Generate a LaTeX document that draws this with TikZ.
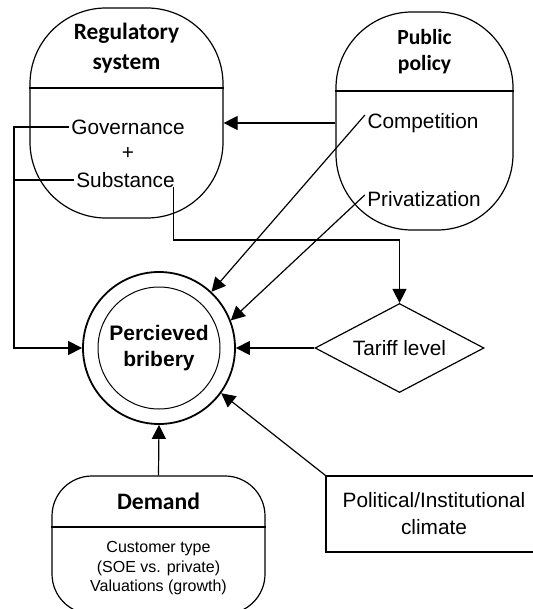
\documentclass[tikz,border=0pt]{standalone}
\usepackage{fontspec}
\setmainfont{Liberation Sans}
\newfontfamily\titlefont{Carlito}
\usetikzlibrary{shapes.geometric, arrows.meta, calc}

\begin{document}
\begin{tikzpicture}[x=0.5pt, y=-0.5pt, line width=0.6pt,
    arr/.style={-{Triangle[length=7pt,width=7pt]}},
    panel/.style={draw, inner sep=0pt},
    item/.style={inner sep=1pt, font=\fontsize{10.4}{13.5}\selectfont},
    head/.style={align=center, font=\titlefont\bfseries\fontsize{11.7}{15}\selectfont}]
    \useasboundingbox (0,0) rectangle (532,609);

    % Regulatory system
    \node[panel, rounded corners=38pt, minimum width=96.5pt, minimum height=105pt] (reg) at (126.5,113) {};
    \draw (reg.west |- 0,88) -- (reg.east |- 0,88);
    \node[head] (regtitle) at (126.5,48) {Regulatory\\system};
    \node[item] (gov) at (128,127) {Governance};
    \node[item] (plus) at (128,153) {+};
    \node[item] (sub) at (125.5,180) {Substance};

    % Public policy
    \node[panel, rounded corners=38pt, minimum width=88.5pt, minimum height=109pt] (pub) at (424.5,121) {};
    \draw (pub.west |- 0,91) -- (pub.east |- 0,91);
    \node[head, font=\titlefont\bfseries\fontsize{10.8}{13}\selectfont] (pubtitle) at (424.5,52) {Public\\policy};
    \node[item] (comp) at (423,123) {Competition};
    \node[item] (priv) at (424,199) {Privatization};

    % Percieved bribery
    \node[circle, draw, line width=0.9pt, minimum size=76pt, align=center,
          font=\bfseries\fontsize{10.5}{13}\selectfont] (bribe) at (159,348) {Percieved\\bribery};
    \draw[line width=0.5pt] (bribe.center) circle (30.5pt);

    % Tariff level
    \node[diamond, draw, minimum width=84.5pt, minimum height=44.5pt, aspect=1.9, item] (tariff) at (399.5,348) {Tariff level};

    % Political/Institutional climate
    \node[panel, minimum width=108pt, minimum height=38pt, align=center, item] (pol) at (434,514) {Political/Institutional\\climate};

    % Demand
    \node[panel, rounded corners=20pt, minimum width=106.5pt, minimum height=69pt] (dem) at (158.5,545) {};
    \draw (dem.west |- 0,527) -- (dem.east |- 0,527);
    \node[head, font=\titlefont\bfseries\fontsize{11.8}{15}\selectfont] (demtitle) at (158.5,501) {Demand};
    \node[align=center, font=\fontsize{8}{9.75}\selectfont] (demitems) at (158.5,568.5) {Customer type\\(SOE vs. private)\\Valuations (growth)};

    % Links
    \coordinate (trunk) at (14,348);
    \coordinate (kink) at (0,240);
    \draw[arr] (comp -| pub.west) -- (comp -| reg.east);
    \draw[arr] (gov.west) -| (trunk) -- (bribe.west);
    \draw (sub.west) -- (sub.west -| trunk);
    \draw[arr] ([xshift=-2pt]sub.base east) |- (kink -| tariff.north) -- (tariff.north);
    \draw[arr] ([yshift=4pt]comp.west) -- (bribe.47);
    \draw[arr] ([yshift=2pt]priv.west) -- (bribe.21);
    \draw[arr] (tariff.west) -- (bribe.east);
    \draw[arr] (pol.north west) -- (bribe.-36);
    \draw[arr] (dem.north) -- (bribe.south);
\end{tikzpicture}
\end{document}
